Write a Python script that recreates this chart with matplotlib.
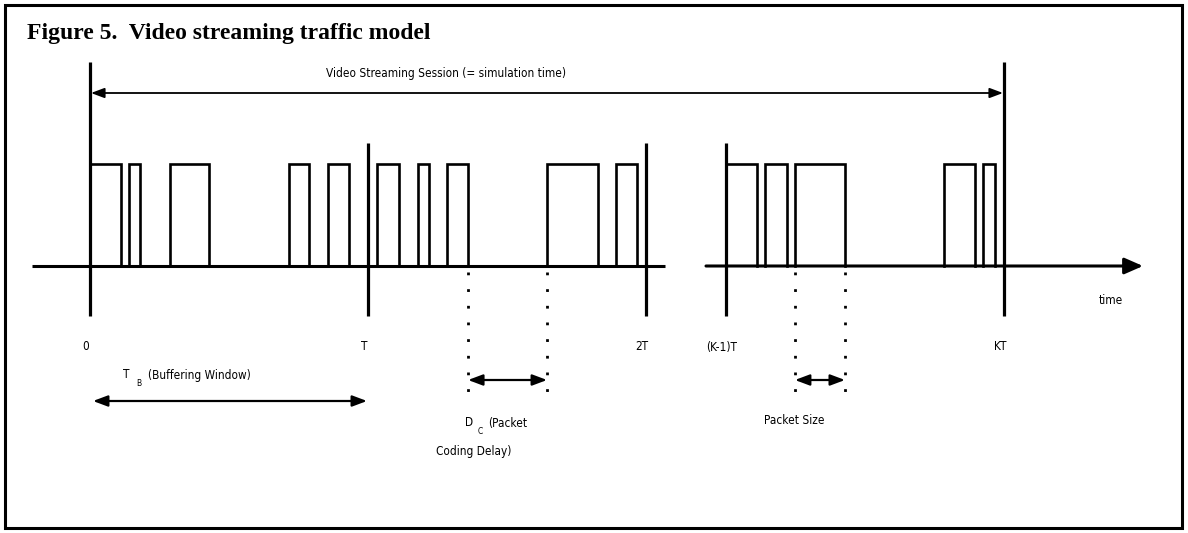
import matplotlib.pyplot as plt
from matplotlib.patches import Rectangle

# time marks on the axis (axis is broken between 2T and (K-1)T)
tick_labels = ['0', 'T', '2T', '(K-1)T', 'KT']
tick_x = [90, 368, 646, 726, 1004]
period_px = 278

# packets: start / end as a fraction of T, inside each drawn period
p1_start = [0.000, 0.140, 0.288, 0.716, 0.856]
p1_end = [0.112, 0.180, 0.428, 0.788, 0.932]
p2_start = [0.032, 0.180, 0.284, 0.644, 0.892]
p2_end = [0.112, 0.219, 0.360, 0.827, 0.968]
pk_start = [0.000, 0.140, 0.248, 0.784, 0.924]
pk_end = [0.112, 0.219, 0.428, 0.896, 0.968]

base_y = 266
top_y = 164
lab = dict(family='DejaVu Sans', stretch='condensed', fontsize=8.5)
sub = dict(family='DejaVu Sans', stretch='condensed', fontsize=6)

fig = plt.figure(figsize=(11.88, 5.33), dpi=100)
ax = fig.add_axes([0, 0, 1, 1])
ax.set_xlim(0, 1188)
ax.set_ylim(533, 0)
ax.axis('off')

# frame
ax.add_patch(Rectangle((5, 5), 1177, 523, fill=False, lw=2.2, ec='black'))

fig.text(27 / 1188, 1 - 33 / 533, 'Figure 5.  Video streaming traffic model',
         family='Liberation Serif', weight='bold', fontsize=17, va='center', ha='left')

# time axis
ax.plot([32, 665], [base_y, base_y], color='black', lw=2.2, solid_capstyle='butt')
ax.annotate('', xy=(1143, base_y), xytext=(706, base_y),
            arrowprops=dict(arrowstyle='-|>,head_length=0.8,head_width=0.35', lw=2.2,
                            color='black', shrinkA=0, shrinkB=0, mutation_scale=14))
ax.text(1111, 300, 'time', ha='center', va='center', **lab)

# period boundaries
tops = [62, 143, 143, 143, 62]
for x, t, name in zip(tick_x, tops, tick_labels):
    ax.plot([x, x], [t, 316], color='black', lw=2.3, solid_capstyle='butt')
    ax.text(x - 4, 347, name, ha='center', va='center', **lab)

# packets
def draw_packets(origin, starts, ends):
    for s, e in zip(starts, ends):
        xs = origin + period_px * s
        xe = origin + period_px * e
        ax.plot([xs, xs, xe, xe], [base_y, top_y, top_y, base_y],
                color='black', lw=1.9, solid_joinstyle='miter')

draw_packets(tick_x[0], p1_start, p1_end)
draw_packets(tick_x[1], p2_start, p2_end)
draw_packets(tick_x[3], pk_start, pk_end)

# dotted guides at packet edges
guides = [tick_x[1] + period_px * p2_end[2], tick_x[1] + period_px * p2_start[3],
          tick_x[3] + period_px * pk_start[2], tick_x[3] + period_px * pk_end[2]]
for g in guides:
    ax.plot([g, g], [272, 398], color='black', lw=2, linestyle=(0, (1, 5)))

def double_arrow(x0, x1, y, lw=1.6, ms=11):
    ax.annotate('', xy=(x1, y), xytext=(x0, y),
                arrowprops=dict(arrowstyle='<|-|>,head_length=0.8,head_width=0.3', lw=lw,
                                color='black', shrinkA=0, shrinkB=0, mutation_scale=ms))

# session
double_arrow(tick_x[0] + 1, tick_x[4] - 1, 93, lw=1.3, ms=10)
ax.text(446, 73, 'Video Streaming Session (= simulation time)', ha='center', va='center', **lab)

# buffering window
double_arrow(93, 367, 401)
ax.text(123, 375, 'T', ha='left', va='center', **lab)
ax.text(136, 384, 'B', ha='left', va='center', **sub)
ax.text(148, 376, '(Buffering Window)', ha='left', va='center', **lab)

# coding delay
double_arrow(guides[0], guides[1], 380)
ax.text(465, 423, 'D', ha='left', va='center', **lab)
ax.text(478, 432, 'C', ha='left', va='center', **sub)
ax.text(488, 423, '(Packet', ha='left', va='center', **lab)
ax.text(474, 451, 'Coding Delay)', ha='center', va='center', **lab)

# packet size
double_arrow(guides[2], guides[3], 380)
ax.text(794, 421, 'Packet Size', ha='center', va='center', **lab)

fig.savefig('out.png', dpi=100)
